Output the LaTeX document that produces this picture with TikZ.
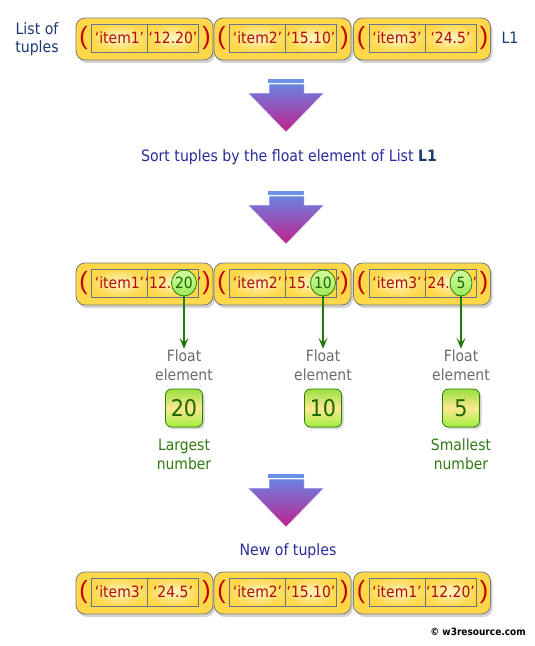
\documentclass[tikz,border=0pt]{standalone}
\usepackage{fontspec}
\setmainfont{DejaVu Sans Condensed}
\newfontfamily\parfont{Liberation Sans}
\usetikzlibrary{shapes.geometric,shadows,arrows.meta}
\definecolor{tupyel}{HTML}{FFD84A}
\definecolor{tuplight}{HTML}{FFF6C8}
\definecolor{tupedge}{HTML}{7A7A7A}
\definecolor{celledge}{HTML}{6A7290}
\definecolor{celltxt}{HTML}{B00C0C}
\definecolor{parcol}{HTML}{C00000}
\definecolor{navy}{HTML}{1C3A72}
\definecolor{sorttxt}{HTML}{2A2A9A}
\definecolor{grntxt}{HTML}{2E7A10}
\definecolor{grnedge}{HTML}{2E7D00}
\definecolor{numtxt}{HTML}{1E6600}
\definecolor{grnline}{HTML}{1E7A00}
\definecolor{grytxt}{HTML}{6A6A6A}
\definecolor{arrtop}{HTML}{6A82E2}
\definecolor{arrbot}{HTML}{C2208C}
\definecolor{arrbar}{HTML}{6A90E8}
\definecolor{nbtop}{HTML}{98E040}
\definecolor{nbmid}{HTML}{FCE890}
\definecolor{nbbot}{HTML}{A0F040}
\definecolor{eltop}{HTML}{D4FFA0}
\definecolor{elbot}{HTML}{9AE858}
\tikzset{
  tupbox/.style={draw=tupedge, line width=0.8pt, rounded corners=9pt, fill=tupyel,
    minimum width=137pt, minimum height=42pt, inner sep=0pt,
    drop shadow={opacity=0.35, shadow xshift=2pt, shadow yshift=-3pt}},
  cellbox/.style={draw=celledge, line width=0.7pt, inner color=tuplight, outer color=tupyel,
    minimum height=28pt, inner sep=0pt, text=celltxt, font=\fontsize{15.5}{18}\selectfont},
  celltext/.style={inner sep=0pt, text=celltxt, font=\fontsize{15.5}{18}\selectfont},
  paren/.style={inner sep=0pt, text=parcol, font=\parfont\fontsize{25}{28}\selectfont},
  hl/.style={ellipse, draw=grnedge, line width=0.8pt, top color=eltop, bottom color=elbot,
    minimum width=22pt, minimum height=26pt, inner sep=0pt, text=numtxt, font=\fontsize{15.5}{18}\selectfont},
  numbox/.style={draw=grnedge, line width=0.8pt, rounded corners=6pt, minimum width=37pt, minimum height=38pt,
    top color=nbtop, bottom color=nbbot, middle color=nbmid,
    inner sep=0pt, text=numtxt, font=\fontsize{23}{25}\selectfont,
    drop shadow={opacity=0.35, shadow xshift=2pt, shadow yshift=-2pt}},
  flt/.style={align=center, text=grytxt, font=\fontsize{15.5}{19}\selectfont, inner sep=1pt},
  grn/.style={align=center, text=grntxt, font=\fontsize{15.5}{19}\selectfont, inner sep=1pt},
  garrow/.style={draw=grnline, line width=1.8pt, -{Stealth[length=11pt, width=9pt, inset=5pt]}},
  lbl/.style={align=center, inner sep=1pt, font=\fontsize{15.7}{18}\selectfont},
}
% tuple: name, cx, cy, first, second
\newcommand\tup[5]{%
  \node[tupbox] (#1) at (#2,#3) {};
  \node[cellbox, minimum width=56pt] (#1a) at ({#2-25},{#3-1}) {#4};
  \node[cellbox, minimum width=51pt] (#1b) at ({#2+28.5},{#3-1}) {#5};
  \node[paren] (#1l) at ({#2-61},{#3-1}) {(};
  \node[paren] (#1r) at ({#2+62},{#3-1}) {)};
}
% big arrow with bar top at y
\newcommand\bigarr[2]{%
  \fill[arrbar] (268,#2) rectangle (304,{#2+4});
  \shade[top color=arrtop, bottom color=arrbot, draw=white!80!arrtop, line width=0.5pt]
    (269,{#2+5}) -- (304,{#2+5}) -- (304,{#2+14}) -- (324,{#2+14}) -- (286,{#2+53})
    -- (248,{#2+14}) -- (269,{#2+14}) -- cycle;
  \coordinate (#1) at (286,{#2+53});
}
\begin{document}
\begin{tikzpicture}[x=1pt,y=-1pt]
\useasboundingbox (0,0) rectangle (535,646);
% row 1
\node[lbl, text=navy] (lot) at (37,39) {List of\\tuples};
\tup{ta}{144.5}{39}{‘item1’}{‘12.20’}
\tup{tb}{282.5}{39}{‘item2’}{‘15.10’}
\tup{tc}{422}{39}{‘item3’}{‘24.5’}
\node[lbl, text=navy] (l1) at (510,38) {L1};
% arrow 1
\bigarr{a1}{79}
\node[lbl, text=sorttxt] (sort) at (289,157) {Sort tuples by the float element of List \textcolor{navy}{\bfseries L1}};
% arrow 2
\bigarr{a2}{191}
% row 2
\tup{ua}{144.5}{284}{‘item1’}{}
\tup{ub}{282.5}{284}{‘item2’}{}
\tup{uc}{422}{284}{‘item3’}{}
\node[hl] (e1) at (184,283) {20};
\node[hl] (e2) at (323,283) {10};
\node[hl] (e3) at (461,283) {5};
\node[celltext, anchor=east] (p1) at ([xshift=0.5pt]e1.west) {‘12.};
\node[celltext, anchor=west] (q1) at (e1.east) {’};
\node[celltext, anchor=east] (p2) at ([xshift=0.5pt]e2.west) {‘15.};
\node[celltext, anchor=west] (q2) at (e2.east) {’};
\node[celltext, anchor=east] (p3) at ([xshift=0.5pt]e3.west) {‘24.};
\node[celltext, anchor=west] (q3) at (e3.east) {’};
% float element labels
\node[flt] (f1) at (184,365.5) {Float\\element};
\node[flt] (f2) at (323,365.5) {Float\\element};
\node[flt] (f3) at (461,365.5) {Float\\element};
\draw[garrow] (e1.south) -- (f1.north);
\draw[garrow] (e2.south) -- (f2.north);
\draw[garrow] (e3.south) -- (f3.north);
\node[numbox] (n1) at (184,408) {20};
\node[numbox] (n2) at (323,408) {10};
\node[numbox] (n3) at (461,408) {5};
\node[grn] (big) at (184,454) {Largest\\number};
\node[grn] (small) at (461,454) {Smallest\\number};
% arrow 3
\bigarr{a3}{474}
\node[lbl, text=sorttxt] (newt) at (288,551) {New of tuples};
% row 3
\tup{va}{144.5}{593}{‘item3’}{‘24.5’}
\tup{vb}{282.5}{593}{‘item2’}{‘15.10’}
\tup{vc}{422}{593}{‘item1’}{‘12.20’}
\node[inner sep=0pt, font=\fontsize{10}{12}\selectfont\bfseries] (copy) at (478,632) {© w3resource.com};
\end{tikzpicture}
\end{document}
